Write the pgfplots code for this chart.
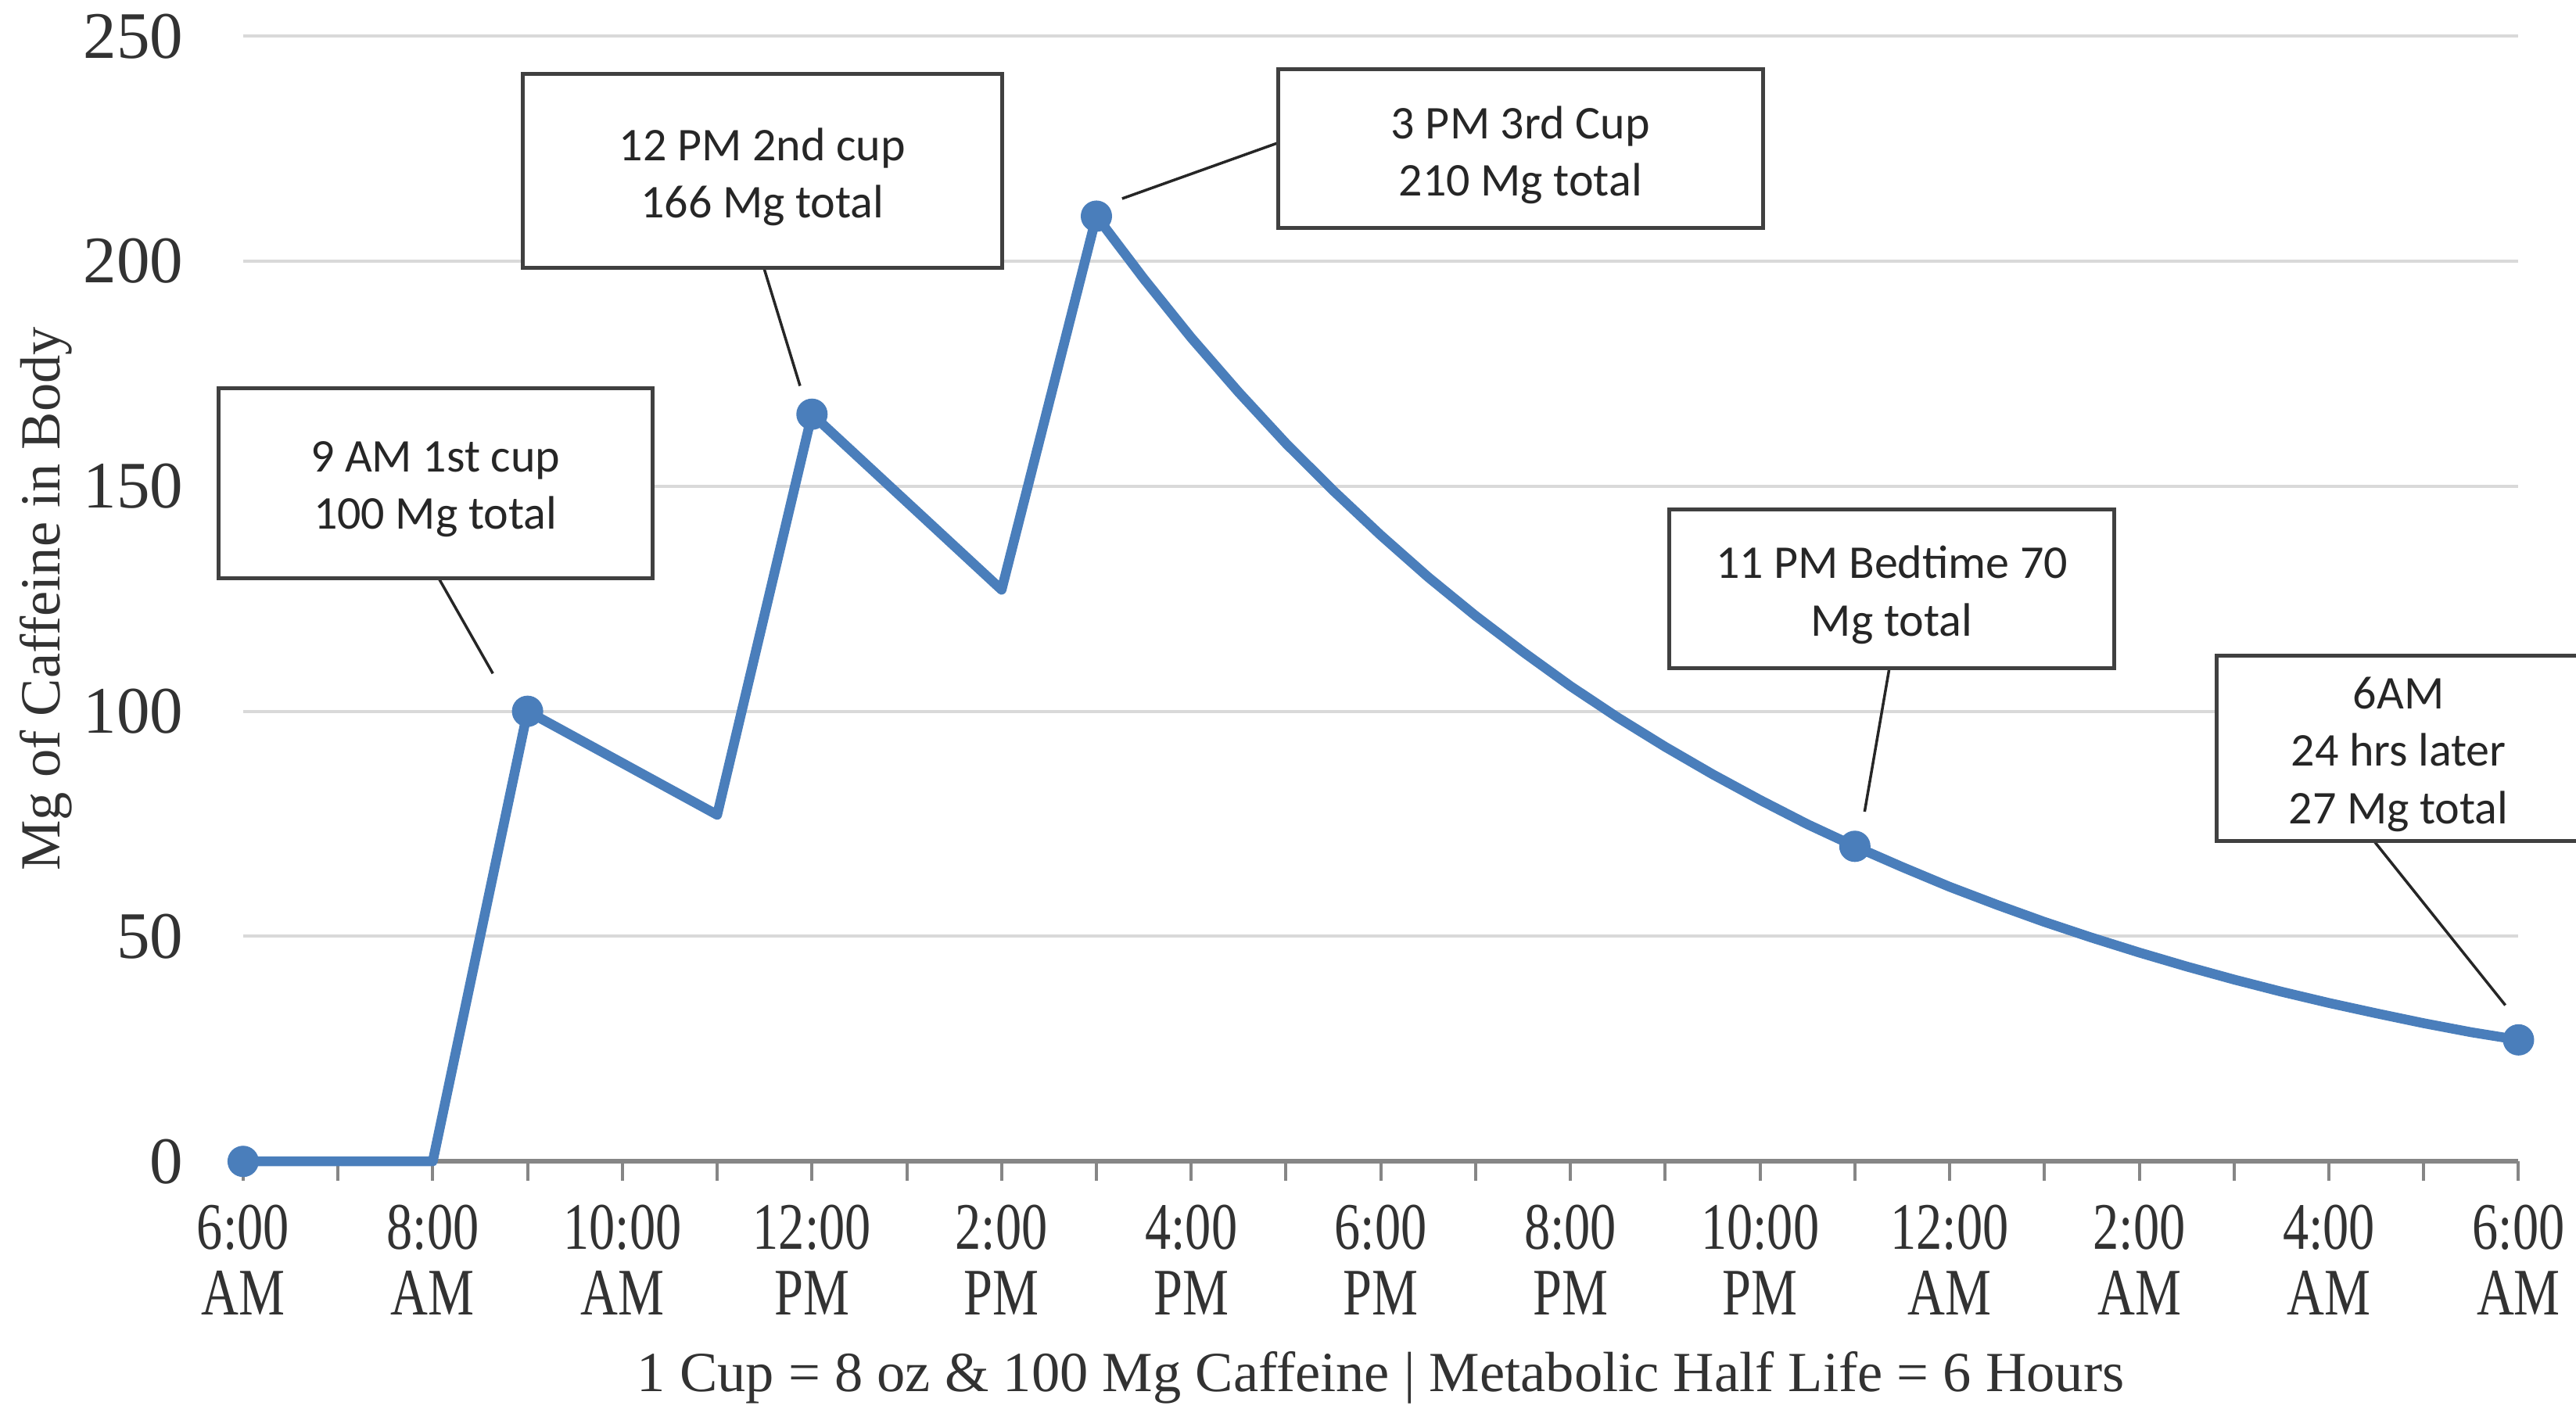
\documentclass[border=0pt]{standalone}
\usepackage{fontspec}
\setmainfont{Liberation Serif}
\newfontfamily\calib{Carlito}
\newfontfamily\condserif[FakeStretch=0.78]{Liberation Serif}
\usepackage{pgfplots}
\pgfplotsset{compat=1.18}
\definecolor{lineblue}{RGB}{74,126,187}
\definecolor{gridgray}{RGB}{217,217,217}
\definecolor{axisgray}{RGB}{134,134,134}
\definecolor{txt}{RGB}{50,50,50}
\tikzset{
  annobox/.style={draw=black!75, line width=1pt, fill=white, inner sep=0pt},
  annotext/.style={align=center, inner sep=0pt, yshift=-1.6pt,
    font=\calib\fontsize{12}{14.7}\selectfont, text=black!85}}
\begin{document}
\begin{tikzpicture}
\begin{axis}[at={(0,0)}, anchor=south west, scale only axis,
  width=581.7pt, height=287.7pt,
  xmin=0, xmax=24, ymin=0, ymax=250, clip=false,
  axis x line*=bottom, axis y line*=left,
  y axis line style={draw=none},
  x axis line style={draw=axisgray, line width=1.2pt, -},
  xtick={0,2,...,24}, minor xtick={1,3,...,23},
  xticklabels={{6:00\\AM},{8:00\\AM},{10:00\\AM},{12:00\\PM},{2:00\\PM},{4:00\\PM},{6:00\\PM},{8:00\\PM},{10:00\\PM},{12:00\\AM},{2:00\\AM},{4:00\\AM},{6:00\\AM}},
  tick align=outside, major tick length=5pt, minor tick length=5pt,
  xtick style={draw=axisgray, line width=0.8pt},
  minor tick style={draw=axisgray, line width=0.8pt},
  ytick={0,50,...,250}, ytick style={draw=none},
  ymajorgrids, grid style={draw=gridgray, line width=0.8pt},
  /pgf/number format/assume math mode=true,
  xticklabel style={font=\condserif\fontsize{17}{16.8}\selectfont, align=center, inner sep=0pt, anchor=north, yshift=-5.9pt, text=txt},
  yticklabel style={font=\fontsize{17}{20}\selectfont, anchor=east, inner sep=0pt, xshift=-10.1pt, text=txt},
]
\addplot[lineblue, line width=2.5pt, line join=round, line cap=round] coordinates {
(0,0)(2,0)(3,100)(5,77)(6,166)(8,127)(9,210)
(9.5,196.1)(10,183.0)(10.5,170.9)(11,159.5)(11.5,149.0)(12,139.1)(12.5,129.8)
(13,121.2)(13.5,113.2)(14,105.6)(14.5,98.6)(15,92.1)(15.5,86.0)(16,80.3)(16.5,74.9)
(17,70)(17.5,65.4)(18,61.0)(18.5,57.0)(19,53.2)(19.5,49.7)(20,46.4)(20.5,43.3)
(21,40.4)(21.5,37.7)(22,35.2)(22.5,32.9)(23,30.7)(23.5,28.7)(24,27)
};
\addplot[only marks, mark=*, mark size=3.8pt, lineblue, mark options={fill=lineblue, draw=lineblue}] coordinates {
(0,0)(3,100)(6,166)(9,210)(17,70)(24,27)
};
% pointer lines
\draw[black!85, line width=0.7pt] (axis cs:2.062,129.6) -- (axis cs:2.634,108.4);
\draw[black!85, line width=0.7pt] (axis cs:5.493,198.5) -- (axis cs:5.874,172.3);
\draw[black!85, line width=0.7pt] (axis cs:10.917,226.3) -- (axis cs:9.271,213.9);
\draw[black!85, line width=0.7pt] (axis cs:17.363,109.5) -- (axis cs:17.103,77.7);
\draw[black!85, line width=0.7pt] (axis cs:22.475,71.2) -- (axis cs:23.861,34.7);
% annotation boxes
\node[annobox, minimum width=110.9pt, minimum height=48.7pt] at (axis cs:2.027,150.7) {};
\node[annotext] at (axis cs:2.027,150.7) {9 AM 1st cup\\100 Mg total};
\node[annobox, minimum width=122.6pt, minimum height=49.6pt] at (axis cs:5.476,220.1) {};
\node[annotext] at (axis cs:5.476,220.1) {12 PM 2nd cup\\166 Mg total};
\node[annobox, minimum width=123.9pt, minimum height=40.7pt] at (axis cs:13.473,225.0) {};
\node[annotext] at (axis cs:13.473,225.0) {3 PM 3rd Cup\\210 Mg total};
\node[annobox, minimum width=113.8pt, minimum height=40.7pt] at (axis cs:17.389,127.2) {};
\node[annotext] at (axis cs:17.389,127.2) {11 PM Bedtime 70\\Mg total};
\node[annobox, minimum width=93.2pt, minimum height=47.5pt] at (axis cs:22.735,91.8) {};
\node[annotext] at (axis cs:22.735,91.8) {6AM\\24 hrs later\\27 Mg total};
% axis titles
\node[rotate=90, font=\fontsize{14.5}{17}\selectfont, text=txt] at ([xshift=-50.5pt]rel axis cs:0,0.5) {Mg of Caffeine in Body};
\node[font=\fontsize{14.5}{17}\selectfont, text=txt] at ([yshift=-55.2pt]rel axis cs:0.5,0) {1 Cup = 8 oz \& 100 Mg Caffeine | Metabolic Half Life = 6 Hours};
\end{axis}
\pgfresetboundingbox
\useasboundingbox (-62.16pt,-64.26pt) rectangle (596.4pt,296.94pt);
\end{tikzpicture}
\end{document}
